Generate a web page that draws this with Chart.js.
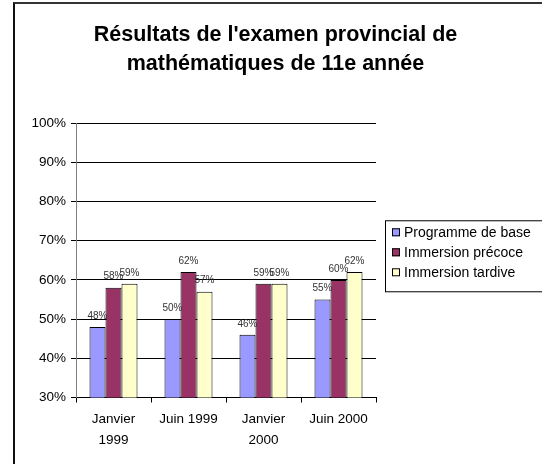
<!DOCTYPE html>
<html>
<head>
<meta charset="utf-8">
<script src="https://cdn.jsdelivr.net/npm/chart.js@4/dist/chart.umd.min.js"></script>
<style>
  html, body { margin: 0; padding: 0; background: #fff; overflow: hidden; }
  #frame { position: absolute; left: 13px; top: 2px; width: 600px; height: 600px; border: 2px solid #333; border-left-color: #111; }
  #c { position: absolute; left: 0; top: 0; }
</style>
</head>
<body>
<div id="frame"></div>
<canvas id="c" width="542" height="464"></canvas>
<script>
// Data
const categories = [['Janvier', '1999'], 'Juin 1999', ['Janvier', '2000'], 'Juin 2000'];
const seriesNames = ['Programme de base', 'Immersion précoce', 'Immersion tardive'];
const programmeBase = [48, 50, 46, 55];
const immersionPrecoce = [58, 62, 59, 60];
const immersionTardive = [59, 57, 59, 62];
const yTicks = [30, 40, 50, 60, 70, 80, 90, 100];

const colors = ['#9999ff', '#993366', '#ffffcc'];
const FONT = "'Liberation Sans', Arial, sans-serif";

// labels above each bar
const valueLabels = {
    id: 'valueLabels',
    afterDatasetsDraw(chart) {
        const ctx = chart.ctx;
        ctx.save();
        ctx.font = '10px ' + FONT;
        ctx.fillStyle = '#333';
        ctx.textAlign = 'center';
        ctx.textBaseline = 'bottom';
        chart.data.datasets.forEach((ds, i) => {
            chart.getDatasetMeta(i).data.forEach((bar, j) => {
                ctx.fillText(ds.data[j] + '%', bar.x, bar.y - 6);
            });
        });
        ctx.restore();
    }
};

// boxed legend on the right, like the original
const boxLegend = {
    id: 'boxLegend',
    afterDraw(chart) {
        const ctx = chart.ctx;
        const area = chart.chartArea;
        const left = area.right + 9;
        const top = (area.top + area.bottom) / 2 - 40;
        ctx.save();
        ctx.strokeStyle = '#000';
        ctx.lineWidth = 1;
        ctx.strokeRect(left + 0.5, top + 0.5, 200, 71);
        ctx.font = '14px ' + FONT;
        ctx.textBaseline = 'middle';
        ctx.textAlign = 'left';
        chart.data.datasets.forEach((ds, i) => {
            const cy = top + 12 + i * 20;
            ctx.fillStyle = ds.backgroundColor;
            ctx.fillRect(left + 7, cy - 4, 8, 8);
            ctx.strokeStyle = '#000';
            ctx.strokeRect(left + 7.5, cy - 3.5, 7, 7);
            ctx.fillStyle = '#000';
            ctx.fillText(ds.label, left + 19, cy + 1);
        });
        ctx.restore();
    }
};

new Chart(document.getElementById('c'), {
    type: 'bar',
    data: {
        labels: categories,
        datasets: [
            { label: seriesNames[0], data: programmeBase, backgroundColor: colors[0] },
            { label: seriesNames[1], data: immersionPrecoce, backgroundColor: colors[1] },
            { label: seriesNames[2], data: immersionTardive, backgroundColor: colors[2] },
        ].map(d => Object.assign(d, { borderColor: '#000', borderWidth: 1, yAxisID: 'y' })),
    },
    options: {
        responsive: false,
        animation: false,
        devicePixelRatio: 1,
        layout: { padding: { left: 9, top: 0, right: 0, bottom: 7 } },
        datasets: { bar: { categoryPercentage: 0.64, barPercentage: 1 } },
        plugins: {
            legend: { display: false },
            tooltip: { enabled: false },
            title: {
                display: true,
                text: ["Résultats de l'examen provincial de", 'mathématiques de 11e année'],
                color: '#000',
                font: { family: FONT, size: 21.5, weight: 'bold', lineHeight: 1.35 },
                padding: { top: 21, bottom: 44 },
            },
        },
        scales: {
            x: {
                grid: { display: true, drawOnChartArea: false, drawTicks: true, tickLength: 5, color: '#000' },
                border: { color: '#000' },
                ticks: { color: '#000', padding: 7, maxRotation: 0, font: { family: FONT, size: 13.5, lineHeight: 1.5 } },
            },
            y: {
                min: 30,
                max: 100,
                afterBuildTicks(s) { s.ticks = yTicks.map(v => ({ value: v })); },
                afterFit(s) { s.width = 67; },
                grid: { color: '#000', tickLength: 5, tickColor: '#000' },
                border: { color: '#808080' },
                ticks: { color: '#000', padding: 5, font: { family: FONT, size: 13.5 }, callback: v => v + '%' },
            },
            yR: {
                position: 'right',
                display: true,
                grid: { display: false },
                border: { display: false },
                ticks: { display: false },
                afterFit(s) { s.width = 166; },
            },
        },
    },
    plugins: [valueLabels, boxLegend],
});
</script>
</body>
</html>
